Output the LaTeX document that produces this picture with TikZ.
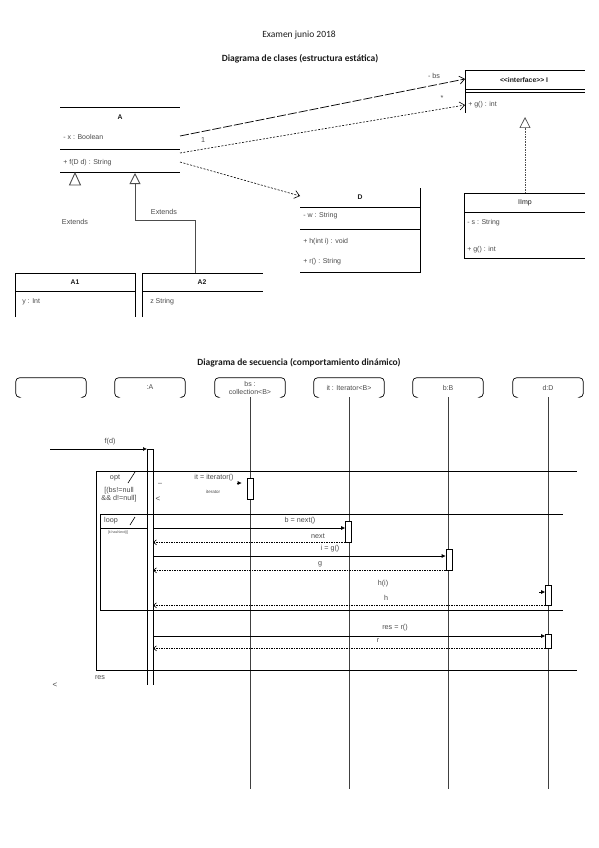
\documentclass[tikz,border=0pt]{standalone}
\usepackage{fontspec}
\setmainfont{Carlito}
\setsansfont{Liberation Sans}
\usetikzlibrary{positioning,arrows.meta,calc}
\definecolor{ink}{HTML}{1A1A1A}
\definecolor{soft}{HTML}{4A4A4A}

\begin{document}
\begin{tikzpicture}[
    x=1pt, y=-1pt, line width=0.6pt,
    ttl/.style={font=\fontsize{9.5}{11}\selectfont, text=ink, inner sep=0pt},
    cname/.style={font=\sffamily\bfseries\fontsize{6.8}{8}\selectfont, text=ink, inner sep=0pt},
    attr/.style={font=\sffamily\fontsize{7}{8}\selectfont, text=soft, anchor=west, inner sep=0pt},
    tag/.style={font=\sffamily\fontsize{7.2}{8}\selectfont, text=soft, inner sep=0pt, align=center},
    objname/.style={minimum width=70pt, minimum height=19pt, inner sep=0pt, align=center, font=\sffamily\fontsize{7}{8}\selectfont, text=soft},
    objedge/.style={rounded corners=4pt, line width=0.7pt},
    life/.style={dash pattern=on 1.2pt off 0.8pt, draw=black!75},
    act/.style={draw, fill=white, minimum width=6pt, inner sep=0pt},
    msg/.style={-{Latex[length=4pt,width=4pt]}},
    ret/.style={dash pattern=on 1.5pt off 1pt, -{Straight Barb[length=3pt,width=5pt]}},
    dep/.style={dash pattern=on 2pt off 1.5pt, -{Straight Barb[length=5pt,width=8pt]}},
    assoc/.style={dash pattern=on 9pt off 2pt, line width=0.7pt, -{Straight Barb[length=5pt,width=8pt]}},
    gen/.style={-{Triangle[open,length=11pt,width=11pt]}, line width=0.9pt, draw=black!70},
]
\useasboundingbox (0,0) rectangle (599,848);

% titles
\node[ttl] (title) at (299,35) {Examen junio 2018};
\node[ttl, font=\fontsize{9.5}{11}\selectfont\bfseries] (tclases) at (300,59) {Diagrama de clases (estructura estática)};
\node[ttl, font=\fontsize{9.5}{11}\selectfont\bfseries] (tsec) at (299,363) {Diagrama de secuencia (comportamiento dinámico)};

%% ---------- class diagram ----------
% class A
\draw (60,107) -- (180,107);
\draw (60,149) -- (180,149);
\draw (60,172) -- (180,172);
\node[cname] (A) at (120,117) {A};
\node[attr] (Ax) at (63,137) {- x : Boolean};
\node[attr] (Af) at (63,163) {+ f(D d) : String};

% interface I
\draw (465,113) -- (465,70) -- (585,70);
\draw (465,89) -- (585,89);
\draw (465,92) -- (585,92);
\node[cname] (I) at (524,80) {{<}{<}interface{>}{>} I};
\node[attr] (Ig) at (468,105) {+ g() : int};

% class D
\draw (300,207) -- (420,207);
\draw (300,229) -- (420,229);
\draw (300,272) -- (420,272) -- (420,188);
\node[cname] (D) at (360,197) {D};
\node[attr] (Dw) at (303,216) {- w : String};
\node[attr] (Dh) at (303,242) {+ h(int i) : void};
\node[attr] (Dr) at (303,262) {+ r() : String};

% class IImp
\draw (464,258) -- (464,193) -- (585,193);
\draw (464,212) -- (585,212);
\draw (464,258) -- (585,258);
\node[cname, font=\sffamily\fontsize{7}{8}\selectfont] (IImp) at (525,203) {IImp};
\node[attr] (Is) at (467,223) {- s : String};
\node[attr] (Ig2) at (467,250) {+ g() : int};

% classes A1 and A2
\draw (15,317) -- (15,273) -- (135,273) -- (135,317);
\draw (15,291) -- (135,291);
\node[cname] (A1) at (75,282) {A1};
\node[attr] (A1y) at (22,302) {y : Int};
\draw (142,317) -- (142,273) -- (263,273);
\draw (142,291) -- (263,291);
\node[cname] (A2) at (202,282) {A2};
\node[attr] (A2z) at (150,302) {z String};

% relations
\coordinate (Aassoc) at (180,136);
\coordinate (Adep1) at (180,153);
\coordinate (Adep2) at (180,162);
\coordinate (Iassoc) at (465,79);
\coordinate (Idep) at (465,105);
\coordinate (Ddep) at (300,196);
\coordinate (Ibot) at (525,117);
\coordinate (IImptop) at (525,193);
\coordinate (Agen1) at (75,173);
\coordinate (Agen2) at (135,173);
\coordinate (A2top) at (195,273);

\draw[assoc] (Aassoc) -- (Iassoc);
\draw[dep] (Adep1) -- (Idep);
\draw[dep] (Adep2) -- (Ddep);
\draw[gen, dash pattern=on 1.5pt off 1pt, line width=0.7pt] (IImptop) -- (Ibot);
\draw[gen] (A2top) -- ++(0,-53) -| (Agen2);
\draw[line width=0.9pt, draw=black!70, fill=white] (Agen1) -- ++(5.5,12) -- ++(-11,0) -- cycle;

\node[tag] (lbs) at (434,76) {- bs};
\node[tag] (lone) at (203,140) {1};
\node[tag] (lmany) at (442,98) {*};
\node[tag] (ext1) at (75,222) {Extends};
\node[tag] (ext2) at (164,212) {Extends};

%% ---------- sequence diagram ----------
\foreach \o/\x/\t in {o1/51/{}, o2/150/{:A}, o3/250/{bs :\\collection<B>}, o4/349/{it : Iterator<B>}, o5/448/{b:B}, o6/548/{d:D}}
    \node[objname] (\o) at (\x,387.5) {\t};
\foreach \o in {o1,o2,o3,o4,o5,o6}
    \draw[objedge] ([xshift=3pt]\o.south west) -- (\o.south west) -- (\o.north west) -- (\o.north east) -- (\o.south east) -- ([xshift=-3pt]\o.south east);

\coordinate (lifeend) at (0,789);
\foreach \o in {o3,o4,o5,o6}
    \draw[life] (\o.south) -- (\o |- lifeend);

% lifeline of :A
\coordinate (aL) at (147,449);
\coordinate (aR) at (153,449);
\coordinate (aEnd) at (0,685);
\draw (aL) -- (aL |- aEnd);
\draw (aR) -- (aR |- aEnd);
\draw (aL) -- (aR);

% frames
\coordinate (optNW) at (96,471);
\coordinate (optSE) at (577,670);
\draw (optSE -| optNW) -- (optNW) -- (optNW -| optSE);
\draw (optSE -| optNW) -- (optSE);
\coordinate (loopNW) at (100,514);
\coordinate (loopSE) at (563,610);
\draw (loopSE -| loopNW) -- (loopNW) -- (loopNW -| loopSE);
\draw (loopSE -| loopNW) -- (loopSE);
\draw (100,528) -- (147,528);

\node[tag] (opt) at (115,478) {opt};
\draw (128,483) -- (135,472);
\node[tag] (optg) at (119,495) {[(bs!=null\\\&\& d!=null]};
\node[tag] (loop) at (111,521) {loop};
\draw (130,525) -- (135,517);
\node[tag, font=\sffamily\fontsize{3.6}{4}\selectfont] (loopg) at (118,533) {[it.hasNext()]};
\node[tag] (dash1) at (160,484) {--};
\node[tag, font=\sffamily\fontsize{8}{9}\selectfont] (lt1) at (158,499) {<};
\node[tag] (res) at (100,678) {res};
\node[tag, font=\sffamily\fontsize{8}{9}\selectfont] (lt2) at (55,685) {<};

% activations
\node[act, minimum height=21pt] (act1) at (250,488.5) {};
\node[act, minimum height=21pt] (act2) at (348.5,531.5) {};
\node[act, minimum height=21pt] (act3) at (449,559.5) {};
\node[act, minimum height=20pt] (act4) at (548.5,595) {};
\node[act, minimum height=14pt] (act5) at (548.5,641) {};

% messages
\coordinate (fstart) at (50,449);
\draw[msg] (fstart) -- (aL);
\node[tag] (lf) at (110,442) {f(d)};

\draw[msg] ($(act1.west |- 0,483)+(-10,0)$) -- ($(act1.west |- 0,483)+(-5,0)$);
\node[tag] (lit) at (214,478) {it = iterator()};
\node[tag, font=\sffamily\fontsize{4.5}{5}\selectfont] (lit2) at (213,492) {iterator};

\draw[msg] (aR |- 0,528) -- (act2.west |- 0,528);
\node[tag] (lnext) at (300,521) {b = next()};
\draw[ret] (act2.south west) -- (aR |- act2.south);
\node[tag] (lnext2) at (318,536) {next};

\draw[msg] (aR |- 0,556) -- (act3.west |- 0,556);
\node[tag] (lg) at (330,549) {i = g()};
\draw[ret] (act3.south west) -- (aR |- act3.south);
\node[tag] (lg2) at (320,564) {g};

\draw[msg] ($(act4.west |- 0,592)+(-6,0)$) -- (act4.west |- 0,592);
\node[tag] (lh) at (383,584) {h(i)};
\draw[ret] (act4.south west) -- (aR |- act4.south);
\node[tag] (lh2) at (386,598) {h};

\draw[msg] (aR |- 0,636) -- (act5.west |- 0,636);
\node[tag] (lr) at (395,628) {res = r()};
\draw[ret] (act5.south west) -- (aR |- act5.south);
\node[tag] (lr2) at (378,641) {r};

\end{tikzpicture}
\end{document}
